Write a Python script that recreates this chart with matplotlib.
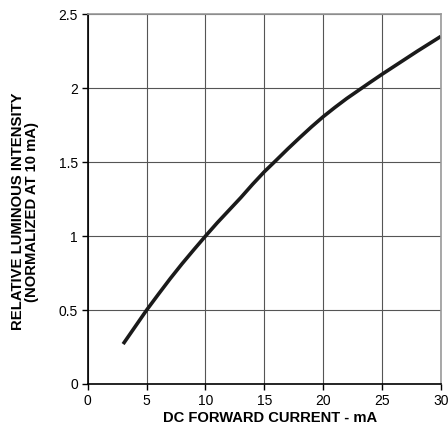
import numpy as np
import matplotlib
matplotlib.use("Agg")
import matplotlib.pyplot as plt

plt.rcParams['font.family'] = ['Liberation Sans', 'DejaVu Sans']

# values
current_ma = [3, 4, 5, 6, 7, 8, 9, 10, 11, 12, 13, 14, 15, 16, 17, 18, 19, 20,
              21, 22, 23, 24, 25, 26, 27, 28, 29, 30]
rel_intensity = [0.27, 0.385, 0.5, 0.607, 0.712, 0.812, 0.907, 1.0, 1.09, 1.175,
                 1.26, 1.35, 1.435, 1.512, 1.59, 1.665, 1.738, 1.807, 1.87, 1.93,
                 1.985, 2.04, 2.094, 2.146, 2.198, 2.25, 2.30, 2.35]
x_ticks = [0, 5, 10, 15, 20, 25, 30]
y_ticks = [0, 0.5, 1, 1.5, 2, 2.5]
y_labels = ['0', '0.5', '1', '1.5', '2', '2.5']

fig = plt.figure(figsize=(4.48, 4.26), dpi=100)
ax = fig.add_axes([0.196, 0.0986, 0.788, 0.868])

ax.plot(current_ma, rel_intensity, color='#1a1a1a', lw=2.6, solid_capstyle='butt')

ax.set_xlim(0, 30)
ax.set_ylim(0, 2.5)
ax.set_xticks(x_ticks)
ax.set_yticks(y_ticks)
ax.set_yticklabels(y_labels)
ax.grid(True, color='#555555', lw=0.8)
ax.set_axisbelow(True)

for s in ['top', 'right']:
    ax.spines[s].set_color('#999999')
    ax.spines[s].set_linewidth(1.2)
for s in ['left', 'bottom']:
    ax.spines[s].set_color('black')
    ax.spines[s].set_linewidth(1.2)

ax.tick_params(axis='both', labelsize=10, length=4, width=1, color='black', pad=3)

ax.set_xlabel('DC FORWARD CURRENT - mA', fontsize=10.6, fontweight='bold', va='center')
ax.xaxis.set_label_coords(0.515, -0.093)
ax.set_ylabel('RELATIVE LUMINOUS INTENSITY\n(NORMALIZED AT 10 mA)', fontsize=10.7,
              fontweight='bold', linespacing=1.0, va='center')
ax.yaxis.set_label_coords(-0.177, 0.466)

fig.savefig('out.png', dpi=100)
